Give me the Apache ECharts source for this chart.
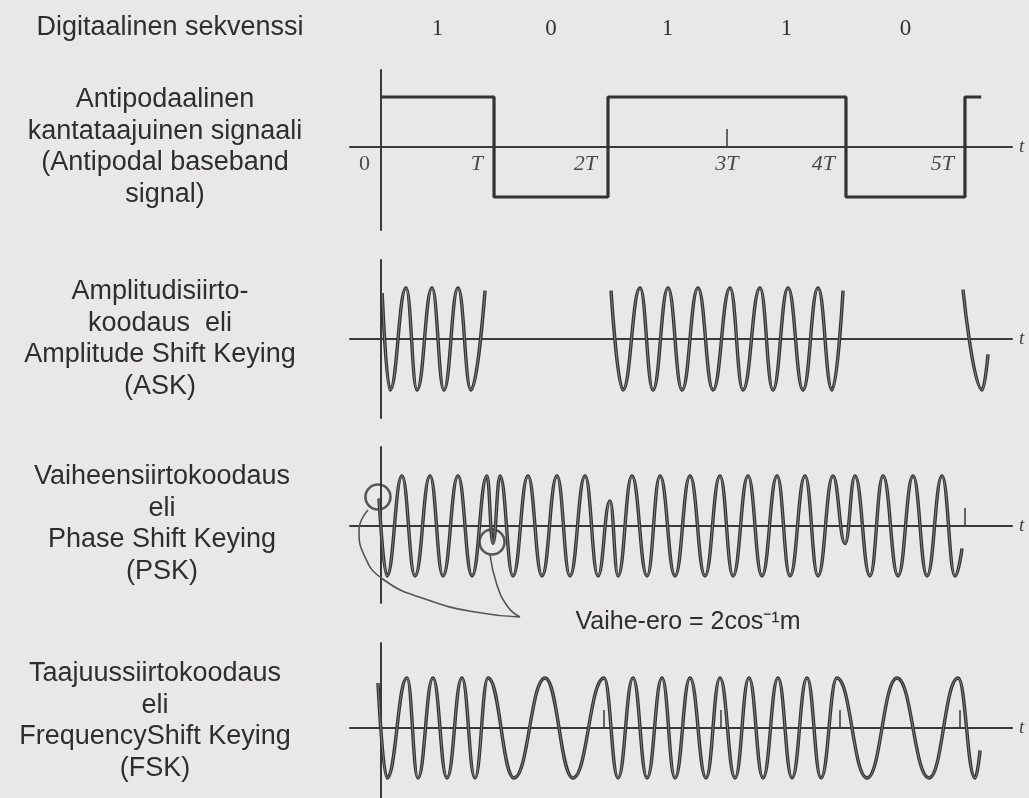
<!DOCTYPE html>
<html>
<head>
<meta charset="utf-8">
<script src="https://cdn.jsdelivr.net/npm/echarts@6.0.0/dist/echarts.min.js"></script>
<style>
html,body{margin:0;padding:0;background:#e9e7e8;}
#c{width:1029px;height:798px;}
</style>
</head>
<body>
<div id="c"></div>
<script>
// ---------------- data (time in units of T) ----------------
const bits = [1, 0, 1, 1, 0];
const nextBit = 1;                                   // start of the following bit (stub at the right)
const bitEdges = [0, 0.966, 1.94, 2.957, 3.974, 4.991];
const stubEnd = 5.13;
const timeTickLabels = ['0', 'T', '2T', '3T', '4T', '5T'];
const baseTicks = [2.957];
const pskTicks = [4.99];
const fskTicks = [1.9, 2.9, 3.92, 4.95];

// ASK: three bursts, extrema of the carrier [t, amplitude]
const askBursts = [
  [[0.01,0.9],[0.077,-1],[0.214,1],[0.308,-1],[0.436,1],[0.538,-1],[0.658,1],[0.769,-1],[0.889,0.95]],
  [[1.966,0.95],[2.068,-1],[2.214,1],[2.325,-1],[2.453,1],[2.573,-1],[2.709,1],[2.838,-1],[2.983,1],
   [3.094,-1],[3.239,1],[3.350,-1],[3.479,1],[3.607,-1],[3.735,1],[3.855,-1],[3.949,0.95]],
  [[4.974,0.97],[5.137,-1],[5.188,-0.3]]
];

// PSK: extrema of the carrier, with the phase-reversal cusps
const pskWave = [
  [-0.017,0.55],[0.051,-1],[0.179,1],[0.291,-1],[0.419,1],[0.530,-1],[0.658,1],[0.778,-1],[0.906,1],
  [0.957,-0.35],[1.017,1],[1.128,-1],[1.256,1],[1.376,-1],[1.504,1],[1.615,-1],[1.744,1],[1.855,-1],
  [1.957,0.5],[2.026,-1],[2.145,1],[2.274,-1],[2.385,1],[2.513,-1],[2.641,1],[2.769,-1],[2.897,1],
  [3.009,-1],[3.137,1],[3.256,-1],[3.385,1],[3.496,-1],[3.624,1],[3.735,-1],[3.863,1],[3.966,-0.35],
  [4.051,1],[4.179,-1],[4.291,1],[4.419,-1],[4.547,1],[4.667,-1],[4.795,1],[4.906,-1],[4.966,-0.45]
];
const pskCircles = [[-0.026, 0.58], [0.949, -0.32]];
const pskCallouts = [
  [[-0.111,0.32],[-0.188,-0.08],[-0.145,-0.58],[0.026,-1.08],[0.402,-1.48],[0.803,-1.72],[1.188,-1.82]],
  [[0.932,-0.58],[0.991,-1.18],[1.085,-1.62],[1.188,-1.82]]
];
const pskNote = 'Vaihe-ero = 2cos\u207B\u00B9m';

// FSK: extrema of the carrier
const fskWave = [
  [-0.026,0.9],[0.051,-1],[0.222,1],[0.316,-1],[0.444,1],[0.564,-1],[0.692,1],[0.803,-1],[0.915,1],
  [1.137,-1],[1.402,1],[1.641,-1],[1.906,1],[2.026,-1],[2.154,1],[2.274,-1],[2.402,1],[2.513,-1],
  [2.641,1],[2.778,-1],[2.897,1],[3.026,-1],[3.145,1],[3.265,-1],[3.393,1],[3.513,-1],[3.641,1],
  [3.761,-1],[3.897,1],[4.154,-1],[4.410,1],[4.684,-1],[4.932,1],[5.077,-1],[5.120,-0.45]
];

const rowLabels = [
  ['Digitaalinen sekvenssi'],
  ['Antipodaalinen', 'kantataajuinen signaali', '(Antipodal baseband', 'signal)'],
  ['Amplitudisiirto-', 'koodaus  eli', 'Amplitude Shift Keying', '(ASK)'],
  ['Vaiheensiirtokoodaus', 'eli', 'Phase Shift Keying', '(PSK)'],
  ['Taajuussiirtokoodaus', 'eli', 'FrequencyShift Keying', '(FSK)']
];

// ---------------- derived ----------------
const baseband = [];
bits.forEach((b, i) => {
  const lv = b ? 1 : -1;
  baseband.push([bitEdges[i], lv], [bitEdges[i + 1], lv]);
});
baseband.push([bitEdges[bits.length], nextBit ? 1 : -1], [stubEnd, nextBit ? 1 : -1]);
const bitCenters = bits.map((b, i) => (bitEdges[i] + bitEdges[i + 1]) / 2);

// ---------------- chart ----------------
const INK = '#333333';
const AXIS = '#3a3a3a';
const TMIN = -0.265, TMAX = 5.393;

function xAx(grid, extra) {
  return Object.assign({
    type: 'value', gridIndex: grid, min: TMIN, max: TMAX,
    splitLine: { show: false },
    axisTick: { show: false },
    axisLabel: { show: false },
    axisLine: { show: true, onZero: true, lineStyle: { color: AXIS, width: 2 } },
    name: 't', nameLocation: 'end', nameGap: 7,
    nameTextStyle: { fontFamily: 'Liberation Serif', fontStyle: 'italic', fontSize: 19, color: '#444' }
  }, extra || {});
}
function yAx(grid, min, max, zeroIdx) {
  return {
    type: 'value', gridIndex: grid, min: min, max: max,
    axisLine: { show: true, onZero: true, onZeroAxisIndex: zeroIdx, lineStyle: { color: AXIS, width: 2 } },
    axisTick: { show: false }, axisLabel: { show: false }, splitLine: { show: false }
  };
}
function tickCfg(vals) {
  return { show: true, customValues: vals, inside: true, length: 18, lineStyle: { color: AXIS, width: 1.5 } };
}

// the scanned strokes look outlined: a dark wide stroke with a lighter core
function waveLines(xi, yi, data) {
  const base = { type: 'line', xAxisIndex: xi, yAxisIndex: yi, data: data, smooth: 0.45,
                 smoothMonotone: 'x', symbol: 'none', silent: true };
  return [
    Object.assign({}, base, { lineStyle: { color: INK, width: 3.4 } }),
    Object.assign({}, base, { lineStyle: { color: '#8a8889', width: 0.9 } })
  ];
}

const series = [
  { type: 'line', xAxisIndex: 0, yAxisIndex: 0, data: baseband, symbol: 'none',
    lineStyle: { color: INK, width: 3.2 } },
  { // time tick labels under the baseband axis
    type: 'scatter', xAxisIndex: 0, yAxisIndex: 0, symbolSize: 0, silent: true,
    data: bitEdges.map((e, i) => {
      const centred = baseTicks.indexOf(e) >= 0;
      return {
        value: [e, 0],
        label: centred ? { position: [0, 6], align: 'center' } : { position: [-11, 6], align: 'right' }
      };
    }),
    label: {
      show: true, verticalAlign: 'top',
      formatter: p => {
        const s = timeTickLabels[p.dataIndex];
        return /[A-Za-z]/.test(s) ? '{it|' + s + '}' : '{up|' + s + '}';
      },
      rich: {
        it: { fontFamily: 'Liberation Serif', fontStyle: 'italic', fontSize: 22, color: '#222' },
        up: { fontFamily: 'Liberation Serif', fontSize: 22, color: '#222' }
      }
    }
  }
];
askBursts.forEach(b => waveLines(2, 1, b).forEach(s => series.push(s)));
waveLines(3, 2, pskWave).forEach(s => series.push(s));
waveLines(4, 3, fskWave).forEach(s => series.push(s));
pskCallouts.forEach(c => series.push({
  type: 'line', xAxisIndex: 3, yAxisIndex: 2, data: c, smooth: 0.5, symbol: 'none', clip: false,
  lineStyle: { color: '#555', width: 1.6 }
}));
series.push({
  type: 'scatter', xAxisIndex: 3, yAxisIndex: 2, data: pskCircles, symbol: 'circle', symbolSize: 25,
  itemStyle: { color: 'rgba(0,0,0,0)', borderColor: '#333', borderWidth: 2.6 }, clip: false
});

const graphic = [];
const blockPos = [[170, 28], [165, 147], [160, 339], [162, 524], [155, 721]];
rowLabels.forEach((lines, bi) => {
  const n = lines.length;
  lines.forEach((txt, li) => {
    graphic.push({
      type: 'text', x: blockPos[bi][0], y: blockPos[bi][1] + (li - (n - 1) / 2) * 31.5,
      style: { text: txt, fontFamily: 'Liberation Sans', fontSize: 27, fill: '#2e2e2e',
               align: 'center', verticalAlign: 'middle', textAlign: 'center', textVerticalAlign: 'middle' }
    });
  });
});
graphic.push({
  type: 'text', x: 688, y: 622,
  style: { text: pskNote, fontFamily: 'Liberation Sans', fontSize: 25, fill: '#2e2e2e',
           align: 'center', verticalAlign: 'middle', textAlign: 'center', textVerticalAlign: 'middle' }
});

const option = {
  animation: false,
  backgroundColor: '#e9e7e8',
  grid: [
    { left: 350, right: 17, top: 70, height: 160 },
    { left: 350, right: 17, top: 260, height: 158 },
    { left: 350, right: 17, top: 447, height: 156 },
    { left: 350, right: 17, top: 643, height: 155 }
  ],
  xAxis: [
    xAx(0, { axisTick: tickCfg(baseTicks) }),
    {
      type: 'value', gridIndex: 0, position: 'top', min: TMIN, max: TMAX,
      axisLine: { show: false, onZero: false }, axisTick: { show: false }, splitLine: { show: false },
      axisLabel: {
        show: true, customValues: bitCenters, margin: 30,
        fontFamily: 'Liberation Serif', fontSize: 23, color: '#333',
        formatter: function (v) {
          let k = 0, d = 1e9;
          bitCenters.forEach((e, i) => { if (Math.abs(e - v) < d) { d = Math.abs(e - v); k = i; } });
          return String(bits[k]);
        }
      }
    },
    xAx(1),
    xAx(2, { axisTick: tickCfg(pskTicks) }),
    xAx(3, { axisTick: tickCfg(fskTicks) })
  ],
  yAxis: [
    yAx(0, -1.66, 1.54, 0),
    yAx(1, -1.55, 1.55, 2),
    yAx(2, -1.54, 1.58, 3),
    yAx(3, -1.4, 1.7, 4)
  ],
  series: series,
  graphic: graphic
};

const chart = echarts.init(document.getElementById('c'), null, { renderer: 'canvas' });
chart.setOption(option);
</script>
</body>
</html>
